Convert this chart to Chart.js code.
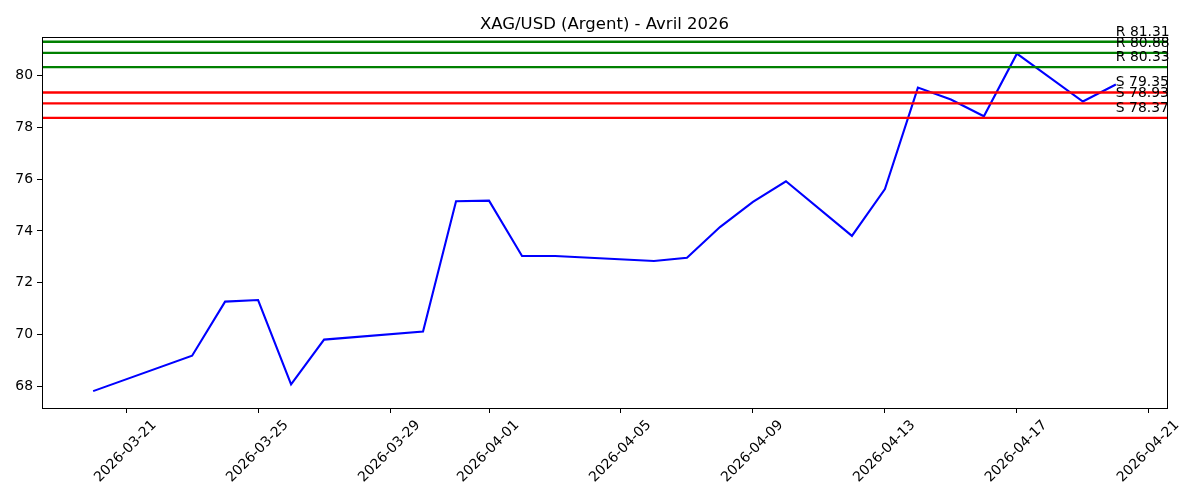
<!DOCTYPE html>
<html>
<head>
<meta charset="utf-8">
<script src="https://cdn.jsdelivr.net/npm/chart.js@4"></script>
<style>
  html, body { margin: 0; padding: 0; background: #fff; }
  #wrap { width: 1200px; height: 500px; }
</style>
</head>
<body>
<div id="wrap"><canvas id="silverChart"></canvas></div>
<script>
// Daily closing prices
const dates = ['2026-03-20', '2026-03-23', '2026-03-24', '2026-03-25', '2026-03-26', '2026-03-27',
    '2026-03-30', '2026-03-31', '2026-04-01', '2026-04-02', '2026-04-03', '2026-04-06',
    '2026-04-07', '2026-04-08', '2026-04-09', '2026-04-10', '2026-04-12', '2026-04-13',
    '2026-04-14', '2026-04-15', '2026-04-16', '2026-04-17', '2026-04-19', '2026-04-20'];
const prices = [67.81, 69.18, 71.27, 71.33, 68.07, 69.80,
    70.11, 75.15, 75.17, 73.03, 73.03, 72.84,
    72.96, 74.15, 75.12, 75.92, 73.81, 75.62,
    79.54, 79.08, 78.43, 80.85, 79.00, 79.66];

const resistances = [81.31, 80.88, 80.33];
const supports = [79.35, 78.93, 78.37];

const xTickDates = ['2026-03-21', '2026-03-25', '2026-03-29', '2026-04-01', '2026-04-05',
    '2026-04-09', '2026-04-13', '2026-04-17', '2026-04-21'];
const yTicks = [68, 70, 72, 74, 76, 78, 80];

function toDay(s) {
    const p = s.split('-');
    return Date.UTC(+p[0], +p[1] - 1, +p[2]) / 86400000;
}
function fromDay(d) {
    return new Date(Math.round(d) * 86400000).toISOString().slice(0, 10);
}

const xs = dates.map(toDay);
const xMin = xs[0], xMax = xs[xs.length - 1];
const xPad = (xMax - xMin) * 0.05;
const yLo = Math.min(...prices), yHi = Math.max(...prices);
const yPad = (yHi - yLo) * 0.05;

const FONT = 'DejaVu Sans';

// support / resistance lines with their labels, plus the axes frame
const levelsPlugin = {
    id: 'levels',
    afterLayout(chart) {
        // centre the title over the plot area, like matplotlib does
        const t = chart.titleBlock;
        if (t) {
            t.left = chart.chartArea.left;
            t.right = chart.chartArea.right;
            t.width = t.right - t.left;
        }
    },
    afterDatasetsDraw(chart) {
        const ctx = chart.ctx;
        const area = chart.chartArea;
        const x = chart.scales.x, y = chart.scales.y;
        const draw = (vals, color) => {
            vals.forEach(v => {
                const py = y.getPixelForValue(v);
                ctx.save();
                ctx.strokeStyle = color;
                ctx.lineWidth = 2.3;
                ctx.beginPath();
                ctx.moveTo(area.left, py);
                ctx.lineTo(area.right, py);
                ctx.stroke();
                ctx.restore();
            });
        };
        draw(resistances, '#008000');
        draw(supports, '#ff0000');

        ctx.save();
        ctx.font = '13.9px "' + FONT + '"';
        ctx.fillStyle = '#000';
        ctx.textAlign = 'left';
        ctx.textBaseline = 'alphabetic';
        const lx = x.getPixelForValue(xMax);
        resistances.forEach(v => ctx.fillText('R ' + v.toFixed(2), lx, y.getPixelForValue(v) - 6));
        supports.forEach(v => ctx.fillText('S ' + v.toFixed(2), lx, y.getPixelForValue(v) - 6));
        ctx.restore();

        ctx.save();
        ctx.strokeStyle = '#000';
        ctx.lineWidth = 1;
        ctx.strokeRect(Math.round(area.left) + 0.5, Math.round(area.top) + 0.5,
            Math.round(area.right - area.left), Math.round(area.bottom - area.top));
        ctx.restore();
    }
};

Chart.defaults.font.family = FONT;
Chart.defaults.color = '#000';

new Chart(document.getElementById('silverChart').getContext('2d'), {
    type: 'line',
    data: {
        datasets: [{
            label: 'XAG/USD',
            data: xs.map((d, i) => ({ x: d, y: prices[i] })),
            borderColor: '#0000ff',
            borderWidth: 2.1,
            pointRadius: 0,
            tension: 0,
            fill: false
        }]
    },
    options: {
        responsive: true,
        maintainAspectRatio: false,
        animation: false,
        layout: { padding: { left: 0, right: 33, top: 0, bottom: 0 } },
        plugins: {
            legend: { display: false },
            tooltip: { enabled: false },
            title: {
                display: true,
                text: 'XAG/USD (Argent) - Avril 2026',
                font: { size: 16.5, weight: 'normal', family: FONT },
                color: '#000',
                padding: { top: 15, bottom: 2 }
            }
        },
        scales: {
            x: {
                type: 'linear',
                min: xMin - xPad,
                max: xMax + xPad,
                afterBuildTicks(scale) {
                    scale.ticks = xTickDates.map(s => ({ value: toDay(s) }));
                },
                afterFit(scale) {
                    scale.height = 92;
                    scale.paddingLeft = 0;
                    scale.paddingRight = 0;
                },
                ticks: {
                    autoSkip: false,
                    maxRotation: 45,
                    minRotation: 45,
                    labelOffset: 28,
                    padding: 4,
                    font: { size: 13.9 },
                    callback: v => fromDay(v)
                },
                grid: { drawOnChartArea: false, tickLength: 5, color: '#000', tickColor: '#000' },
                border: { display: false }
            },
            y: {
                type: 'linear',
                min: yLo - yPad,
                max: yHi + yPad,
                afterBuildTicks(scale) {
                    scale.ticks = yTicks.map(v => ({ value: v }));
                },
                afterFit(scale) {
                    scale.width = 42;
                },
                ticks: {
                    padding: 4,
                    font: { size: 13.9 },
                    callback: v => String(v)
                },
                grid: { drawOnChartArea: false, tickLength: 5, color: '#000', tickColor: '#000' },
                border: { display: false }
            }
        }
    },
    plugins: [levelsPlugin]
});
</script>
</body>
</html>
